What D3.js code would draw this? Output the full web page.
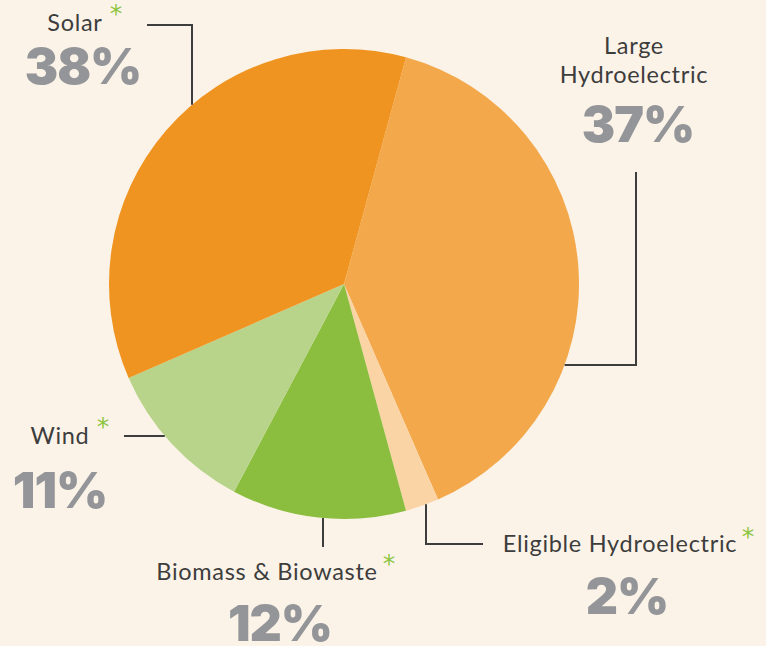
<!doctype html>
<html lang="en">
<head>
  <meta charset="utf-8">
  <title>Renewable energy mix</title>
  <script type="text/javascript" src="https://cdnjs.cloudflare.com/ajax/libs/d3/7.8.5/d3.min.js"></script>
  <style>
    body { margin: 0; background: #fcf3e8; }
    svg { display: block; }
    .name { font-family: Lato, "Open Sans", sans-serif; font-size: 23.5px; letter-spacing: 0.7px; fill: #3d3d3d; }
    .star { font-family: "DejaVu Sans", sans-serif; font-size: 25px; fill: #8cc63f; }
    .pct { font-family: Inter, Roboto, sans-serif; font-weight: 900; font-size: 50px; fill: #939598; letter-spacing: -1px; }
    .leader { fill: none; stroke: #3d3d3d; stroke-width: 2; }
  </style>
</head>
<body>
<svg width="766" height="646" id="svg"></svg>

<script type="text/javascript">

  // slices in drawing order, clockwise from the top
  var sources = ['Large Hydroelectric', 'Eligible Hydroelectric', 'Biomass & Biowaste', 'Wind', 'Solar'];
  // share of the circle each slice takes in the picture
  var shares = [39.2, 2.3, 12.0, 10.7, 35.8];
  // the percentages printed next to the chart
  var labels = ['37%', '2%', '12%', '11%', '38%'];
  var starred = [false, true, true, true, true];
  var colors = ['#f3a94b', '#fbd4a6', '#8bbe3f', '#b7d48a', '#ef9421'];

  var width = 766,
      height = 646,
      cx = 344,
      cy = 284,
      radius = 235;

  var svg = d3.select('#svg');

  svg.append('rect')
    .attr('width', width)
    .attr('height', height)
    .attr('fill', '#fcf3e8');

  var color = d3.scaleOrdinal()
    .domain(sources)
    .range(colors);

  var startAngle = 15.3 * Math.PI / 180;

  var pie = d3.pie()
    .sort(null)
    .value(function(d, i) { return shares[i]; })
    .startAngle(startAngle)
    .endAngle(startAngle + 2 * Math.PI);

  var arc = d3.arc()
    .innerRadius(0)
    .outerRadius(radius);

  var g = svg.append('g')
    .attr('transform', 'translate(' + cx + ',' + cy + ')');

  g.selectAll('path')
    .data(pie(sources))
    .enter().append('path')
    .attr('d', arc)
    .attr('fill', function(d) { return color(d.data); });

  // point on the rim for a given x (or y) offset, used to end the leader lines
  function rimY(x, below) {
    var dy = Math.sqrt(radius * radius - (x - cx) * (x - cx));
    return below ? cy + dy : cy - dy;
  }
  function rimX(y, right) {
    var dx = Math.sqrt(radius * radius - (y - cy) * (y - cy));
    return right ? cx + dx : cx - dx;
  }

  var leaders = {
    'Solar': [[147, 25], [192, 25], [192, rimY(192, false)]],
    'Large Hydroelectric': [[636, 172], [636, 365], [rimX(365, true), 365]],
    'Eligible Hydroelectric': [[426, rimY(426, true)], [426, 544], [483, 544]],
    'Biomass & Biowaste': [[323, rimY(323, true)], [323, 547]],
    'Wind': [[124, 436], [rimX(436, false), 436]]
  };

  // name lines, centre x, baselines; percentage centre x and baseline; asterisk position
  var layout = {
    'Solar': { lines: ['Solar'], x: 75, y: [31], px: 83, py: 84, star: [116, 22] },
    'Large Hydroelectric': { lines: ['Large', 'Hydroelectric'], x: 634, y: [54, 83], px: 638, py: 142 },
    'Eligible Hydroelectric': { lines: ['Eligible Hydroelectric'], x: 620, y: [552], px: 627, py: 614, star: [748, 545] },
    'Biomass & Biowaste': { lines: ['Biomass & Biowaste'], x: 267, y: [580], px: 280, py: 641, star: [389, 572] },
    'Wind': { lines: ['Wind'], x: 60, y: [444], px: 60, py: 508, star: [103, 435] }
  };

  var line = d3.line();

  svg.selectAll('path.leader')
    .data(sources)
    .enter().append('path')
    .attr('class', 'leader')
    .attr('d', function(d) { return line(leaders[d]); });

  sources.forEach(function(s, i) {
    var L = layout[s];
    L.lines.forEach(function(t, j) {
      svg.append('text')
        .attr('class', 'name')
        .attr('x', L.x)
        .attr('y', L.y[j])
        .attr('text-anchor', 'middle')
        .text(t);
    });
    svg.append('text')
      .attr('class', 'pct')
      .attr('x', L.px)
      .attr('y', L.py)
      .attr('text-anchor', 'middle')
      .text(labels[i]);
    if (starred[i]) {
      svg.append('text')
        .attr('class', 'star')
        .attr('x', L.star[0])
        .attr('y', L.star[1])
        .attr('text-anchor', 'middle')
        .text('*');
    }
  });

</script>
</body>
</html>
